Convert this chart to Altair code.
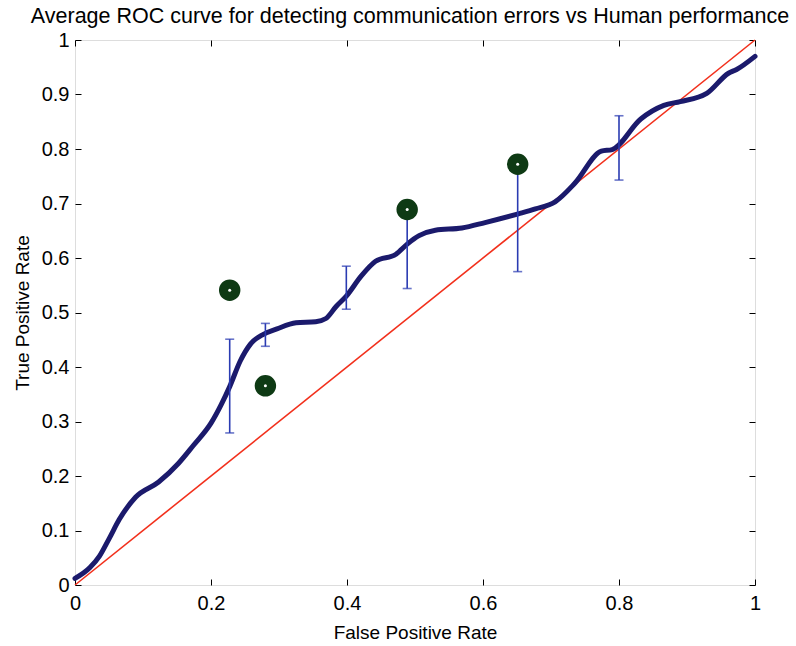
import altair as alt
import pandas as pd

# Averaged ROC curve (false positive rate -> true positive rate)
roc_fpr = [0.0, 0.022, 0.036, 0.051, 0.065, 0.089, 0.123, 0.152, 0.174, 0.2,
           0.215, 0.2275, 0.243, 0.258, 0.277, 0.297, 0.325, 0.354, 0.369, 0.384,
           0.399, 0.421, 0.442, 0.472, 0.489, 0.506, 0.53, 0.569, 0.603, 0.652,
           0.677, 0.706, 0.735, 0.774, 0.79, 0.832, 0.866, 0.89, 0.929, 0.961,
           0.973, 1.0]
roc_tpr = [0.012, 0.032, 0.053, 0.087, 0.12, 0.161, 0.189, 0.223, 0.256, 0.297,
           0.331, 0.364, 0.411, 0.442, 0.46, 0.47, 0.481, 0.483, 0.489, 0.511,
           0.53, 0.567, 0.594, 0.607, 0.626, 0.641, 0.651, 0.655, 0.665, 0.681,
           0.69, 0.703, 0.737, 0.796, 0.799, 0.855, 0.88, 0.887, 0.902, 0.939,
           0.946, 0.97]

# Chance diagonal
chance_fpr = [0.0, 1.0]
chance_tpr = [0.0, 1.0]

# Error bars on the ROC curve
err_fpr = [0.2275, 0.28, 0.399, 0.4885, 0.651, 0.80]
err_low = [0.279, 0.438, 0.506, 0.544, 0.575, 0.743]
err_high = [0.451, 0.480, 0.585, 0.690, 0.780, 0.861]

# Human annotator operating points
human_fpr = [0.2275, 0.28, 0.4885, 0.651]
human_tpr = [0.541, 0.3655, 0.689, 0.772]

x_ticks = [0, 0.2, 0.4, 0.6, 0.8, 1]
y_ticks = [0, 0.1, 0.2, 0.3, 0.4, 0.5, 0.6, 0.7, 0.8, 0.9, 1]

FONT = "Liberation Sans"
TICK = 6

roc = pd.DataFrame({"fpr": roc_fpr, "tpr": roc_tpr})
chance = pd.DataFrame({"fpr": chance_fpr, "tpr": chance_tpr})
err = pd.DataFrame({"fpr": err_fpr, "low": err_low, "high": err_high})
human = pd.DataFrame({"fpr": human_fpr, "tpr": human_tpr})

xs = alt.Scale(domain=[0, 1], nice=False, zero=False)
ys = alt.Scale(domain=[0, 1], nice=False, zero=False)

common = dict(domain=False, grid=False, tickSize=TICK, offset=-TICK,
              tickColor="black", tickWidth=1, labelColor="black",
              labelFont=FONT, labelFontSize=20, labelFlush=False,
              labelOverlap=False, titleFont=FONT, titleFontSize=19,
              titleFontWeight="normal", titleColor="black", format="~g")

x_bottom = alt.Axis(orient="bottom", values=x_ticks, labelPadding=8,
                    title="False Positive Rate", titlePadding=10, **common)
y_left = alt.Axis(orient="left", values=y_ticks, labelPadding=6,
                  title="True Positive Rate", titlePadding=9, **common)
x_top = alt.Axis(orient="top", values=x_ticks, labels=False, title=None, **common)
y_right = alt.Axis(orient="right", values=y_ticks, labels=False, title=None, **common)

chance_line = alt.Chart(chance).mark_line(color="#f2301c", strokeWidth=1.6).encode(
    x=alt.X("fpr:Q", scale=xs, axis=x_bottom),
    y=alt.Y("tpr:Q", scale=ys, axis=y_left),
)

roc_line = alt.Chart(roc).mark_line(
    color="#1b1a6c", strokeWidth=5, interpolate="monotone",
    strokeCap="round", strokeJoin="round",
).encode(
    x=alt.X("fpr:Q", scale=xs, axis=None),
    y=alt.Y("tpr:Q", scale=ys, axis=None),
)

err_color = "#2a3bb2"
err_rule = alt.Chart(err).mark_rule(color=err_color, strokeWidth=1.6).encode(
    x=alt.X("fpr:Q", scale=xs, axis=None),
    y=alt.Y("low:Q", scale=ys, axis=None),
    y2="high:Q",
)
err_low_cap = alt.Chart(err).mark_tick(
    color=err_color, orient="horizontal", size=9, thickness=1.6
).encode(
    x=alt.X("fpr:Q", scale=xs, axis=None),
    y=alt.Y("low:Q", scale=ys, axis=None),
)
err_high_cap = alt.Chart(err).mark_tick(
    color=err_color, orient="horizontal", size=9, thickness=1.6
).encode(
    x=alt.X("fpr:Q", scale=xs, axis=None),
    y=alt.Y("high:Q", scale=ys, axis=None),
)

human_pts = alt.Chart(human).mark_point(
    filled=True, shape="circle", size=460, color="#0e3a14", opacity=1
).encode(
    x=alt.X("fpr:Q", scale=xs, axis=x_top),
    y=alt.Y("tpr:Q", scale=ys, axis=y_right),
)
human_centres = alt.Chart(human).mark_point(
    filled=True, shape="circle", size=9, color="white", opacity=1
).encode(
    x=alt.X("fpr:Q", scale=xs, axis=None),
    y=alt.Y("tpr:Q", scale=ys, axis=None),
)

chart = alt.layer(
    chance_line, roc_line, err_rule, err_low_cap, err_high_cap,
    human_pts, human_centres,
).resolve_axis(
    x="independent", y="independent"
).properties(
    width=680,
    height=545,
    autosize=alt.AutoSizeParams(type="none"),
    padding={"left": 75, "top": 40, "right": 41, "bottom": 61},
    title=alt.TitleParams(
        "Average ROC curve for detecting communication errors vs Human performance",
        font=FONT, fontSize=21.5, fontWeight="normal", color="black",
        anchor="middle", baseline="alphabetic", offset=10, dx=-5, dy=24,
    ),
).configure_view(
    stroke="black", strokeWidth=1.2
).configure(background="white")

chart.save("out.html", embed_options={"renderer": "svg", "actions": False})
